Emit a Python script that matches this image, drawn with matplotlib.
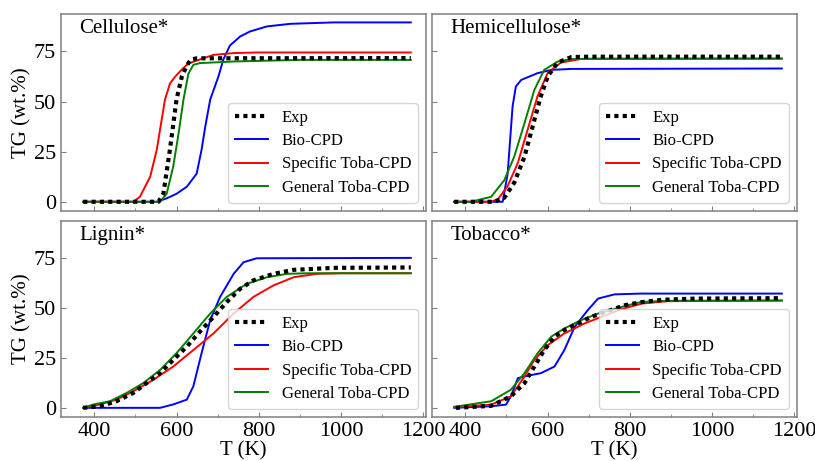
import numpy as np
import matplotlib
matplotlib.use("Agg")
import matplotlib.pyplot as plt
from matplotlib.ticker import MultipleLocator

plt.rcParams['font.family'] = ['Liberation Serif', 'DejaVu Serif']

# ---- Cellulose* ----
cel_exp_T = [373, 556, 568, 584, 600, 613, 625, 635, 650, 1170]
cel_exp_tg = [0, 0, 4, 26, 51, 62.5, 68, 71, 71.6, 71.7]
cel_bio_T = [373, 552, 576, 600, 625, 649, 661, 670, 682, 702, 714, 730, 755, 779, 820, 877, 982, 1170]
cel_bio_tg = [0, 0, 1.7, 4, 7.5, 14, 26, 37.5, 51, 62.5, 71, 78, 82.5, 85, 87.5, 88.8, 89.5, 89.5]
cel_spec_T = [373, 495, 511, 536, 552, 572, 584, 597, 613, 629, 657, 690, 739, 795, 1170]
cel_spec_tg = [0, 0, 2.5, 12.5, 26, 51, 59, 62.5, 66, 69, 71, 73.3, 74.2, 74.5, 74.5]
cel_gen_T = [373, 560, 576, 592, 605, 617, 629, 641, 657, 739, 901, 1170]
cel_gen_tg = [0, 0, 4, 17.5, 34, 51, 64, 68.3, 69.2, 70, 70.8, 70.8]

# ---- Hemicellulose* ----
hem_exp_T = [373, 470, 495, 519, 544, 568, 584, 601, 625, 658, 700, 1170]
hem_exp_tg = [0, 0, 2, 9.5, 22.5, 40.8, 52.8, 62.8, 69.5, 72.2, 72.4, 72.4]
hem_bio_T = [373, 491, 503, 515, 523, 536, 576, 609, 658, 1170]
hem_bio_tg = [0, 0, 14, 47.5, 57.5, 60.8, 64.2, 65.8, 66.3, 66.5]
hem_spec_T = [373, 462, 479, 503, 528, 552, 576, 601, 633, 682, 1170]
hem_spec_tg = [0, 0, 1.2, 7.8, 19.5, 36.2, 52.8, 64.5, 69.5, 71.3, 71.5]
hem_gen_T = [373, 414, 463, 495, 519, 544, 568, 592, 625, 658, 720, 1170]
hem_gen_tg = [0, 0, 2.5, 10.8, 22.5, 39.2, 55.8, 65.8, 70, 71.2, 71.4, 71.4]

# ---- Lignin* ----
lig_exp_T = [373, 414, 454, 495, 527, 560, 592, 625, 657, 690, 722, 755, 787, 836, 885, 982, 1170]
lig_exp_tg = [0, 0.8, 3.3, 7.5, 12.4, 17.4, 24, 30.7, 38.2, 45.6, 53, 59.7, 63.9, 67.2, 69.2, 70.2, 70.4]
lig_bio_T = [373, 560, 592, 625, 641, 661, 682, 706, 739, 763, 795, 1170]
lig_bio_tg = [0, 0, 1.7, 4.1, 10.8, 27.4, 44, 55.6, 67.2, 73, 75, 75.2]
lig_spec_T = [373, 414, 454, 495, 544, 592, 641, 690, 739, 787, 836, 885, 942, 1000, 1170]
lig_spec_tg = [0, 1.7, 4.1, 8.3, 14.1, 20.7, 29, 37.3, 47.3, 55.6, 61.4, 65.5, 67.2, 67.5, 67.5]
lig_gen_T = [373, 398, 438, 479, 519, 560, 600, 641, 682, 722, 771, 820, 869, 920, 1170]
lig_gen_tg = [0, 1.7, 3.3, 7.5, 12.4, 19, 27.4, 37.3, 47.3, 55.6, 62.2, 65.5, 67.2, 67.5, 67.5]

# ---- Tobacco* ----
tob_exp_T = [377, 463, 511, 544, 568, 592, 617, 641, 674, 706, 787, 828, 880, 960, 1170]
tob_exp_tg = [0, 1, 5.8, 12.4, 20.7, 29, 35.7, 39, 42.3, 45.6, 51.4, 53, 54.2, 54.8, 55]
tob_bio_T = [373, 463, 499, 511, 528, 552, 584, 617, 641, 666, 698, 723, 763, 828, 1170]
tob_bio_tg = [0, 0.8, 1.6, 5.8, 14.9, 16.1, 17.4, 20.7, 29, 40.6, 49, 54.8, 56.9, 57.3, 57.3]
tob_spec_T = [373, 463, 511, 544, 568, 601, 641, 690, 731, 780, 830, 893, 1170]
tob_spec_tg = [0.3, 1.6, 5.8, 15.7, 24, 31.5, 37.3, 42.3, 45.6, 49.5, 52.3, 53.5, 53.8]
tob_gen_T = [373, 463, 511, 544, 576, 609, 641, 682, 723, 787, 828, 893, 1170]
tob_gen_tg = [0.5, 3.3, 9.1, 17.4, 27.4, 35.7, 39.8, 44, 47.3, 51, 53.1, 53.7, 53.8]

titles = ['Cellulose*', 'Hemicellulose*', 'Lignin*', 'Tobacco*']
labels = ['Exp', 'Bio-CPD', 'Specific Toba-CPD', 'General Toba-CPD']
yticks = [0, 25, 50, 75]
xticks = [400, 600, 800, 1000, 1200]

panels = [
    (cel_exp_T, cel_exp_tg, cel_bio_T, cel_bio_tg, cel_spec_T, cel_spec_tg, cel_gen_T, cel_gen_tg),
    (hem_exp_T, hem_exp_tg, hem_bio_T, hem_bio_tg, hem_spec_T, hem_spec_tg, hem_gen_T, hem_gen_tg),
    (lig_exp_T, lig_exp_tg, lig_bio_T, lig_bio_tg, lig_spec_T, lig_spec_tg, lig_gen_T, lig_gen_tg),
    (tob_exp_T, tob_exp_tg, tob_bio_T, tob_bio_tg, tob_spec_T, tob_spec_tg, tob_gen_T, tob_gen_tg),
]

fig = plt.figure(figsize=(8.15, 4.61), dpi=100)
W, H = 815, 461
# axes boxes in pixels: left, top, right, bottom
boxes = [(61, 14, 426, 211), (432, 14, 797, 211),
         (61, 221, 426, 417), (432, 221, 797, 417)]

axes = []
for (l, t, r, b) in boxes:
    axes.append(fig.add_axes([l / W, 1 - b / H, (r - l) / W, (b - t) / H]))

spine_col = '0.5'
for k, ax in enumerate(axes):
    eT, eY, bT, bY, sT, sY, gT, gY = panels[k]
    ax.plot(eT, eY, color='black', lw=3, linestyle=(0, (1, 1)), label=labels[0], zorder=5)
    ax.plot(bT, bY, color='blue', lw=1.4, label=labels[1])
    ax.plot(sT, sY, color='red', lw=1.4, label=labels[2])
    ax.plot(gT, gY, color='green', lw=1.4, label=labels[3])

    ax.set_xlim(319, 1207)
    ax.set_ylim(-4.6, 93.7)
    ax.set_xticks(xticks)
    ax.set_yticks(yticks)
    ax.xaxis.set_minor_locator(MultipleLocator(100))
    ax.tick_params(which='both', direction='in', color=spine_col, labelsize=16)
    for sp in ax.spines.values():
        sp.set_color(spine_col)
        sp.set_linewidth(1.1)

    if k in (0, 1):
        ax.tick_params(labelbottom=False)
    else:
        ax.set_xlabel('T (K)', fontsize=15, labelpad=0)
    if k in (1, 3):
        ax.tick_params(labelleft=False)
    else:
        ax.set_ylabel('TG (wt.%)', fontsize=15)
        ax.yaxis.set_label_coords(-0.08, 0.5)

    ax.text(0.05, 0.975, titles[k], transform=ax.transAxes, fontsize=15,
            ha='left', va='top')
    ax.legend(loc='lower right', fontsize=12, handlelength=2.0,
              labelspacing=0.45, borderaxespad=0.5)

fig.savefig('out.png', dpi=100)
